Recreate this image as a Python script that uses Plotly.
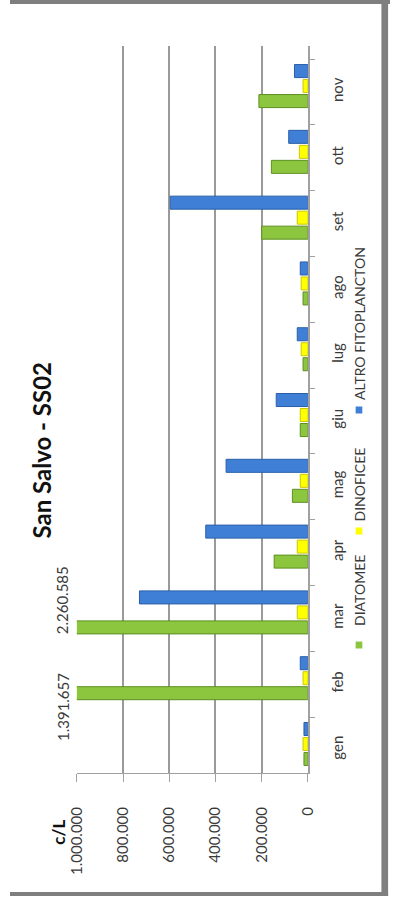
import plotly.graph_objects as go

# Monthly phytoplankton abundance (cells per litre), station SS02
months = ["gen", "feb", "mar", "apr", "mag", "giu", "lug", "ago", "set", "ott", "nov"]
diatomee = [17000, 1391657, 2260585, 146000, 67000, 33000, 21000, 21000, 200000, 158000, 212000]
dinoficee = [21000, 21000, 46000, 46000, 33000, 33000, 29000, 29000, 46000, 37000, 21000]
altro = [17000, 33000, 729000, 442000, 354000, 137000, 46000, 33000, 596000, 83000, 58000]

series_names = ["DIATOMEE", "DINOFICEE", "ALTRO FITOPLANCTON"]
value_ticks = [0, 200000, 400000, 600000, 800000, 1000000]
value_tick_text = ["0", "200.000", "400.000", "600.000", "800.000", "1.000.000"]
axis_max = 1000000

W, H = 398, 899
FONT = "Lato, 'Open Sans', sans-serif"
TXT = "#3a3a3a"
GRID = "#9a9a9a"

green, yellow, blue = "#8cc63f", "#ffff00", "#3f80d6"
edge_green, edge_yellow, edge_blue = "#5e8f22", "#c9c900", "#2a5ea8"


def px(x):
    return x / W


def py(y):
    return 1 - y / H


def fmt(v):
    return f"{v:,}".replace(",", ".")


fig = go.Figure()
bar_w = 0.198
offsets = [-0.236, -0.008, 0.220]
for name, vals, col, edge, off in zip(
    series_names,
    [diatomee, dinoficee, altro],
    [green, yellow, blue],
    [edge_green, edge_yellow, edge_blue],
    offsets,
):
    fig.add_trace(
        go.Bar(
            name=name,
            y=months,
            x=vals,
            orientation="h",
            width=bar_w,
            offset=off,
            marker=dict(color=col, line=dict(color=edge, width=1)),
            showlegend=False,
        )
    )

# values beyond the axis limit are written next to the clipped bars
label_shift = {"feb": -23, "mar": 18}
annotations = []
for m, v in zip(months, diatomee):
    if v > axis_max:
        annotations.append(
            dict(
                xref="x", yref="y", x=axis_max, y=m,
                xanchor="center", yanchor="middle",
                text=fmt(v), textangle=-90, showarrow=False,
                xshift=-14, yshift=label_shift.get(m, 0),
                font=dict(family=FONT, size=15, color=TXT),
            )
        )

# title and unit
annotations.append(dict(
    xref="paper", yref="paper", x=px(32), y=py(450),
    xanchor="center", yanchor="middle",
    text="<b>San Salvo - SS02</b>", textangle=-90, showarrow=False,
    font=dict(family=FONT, size=24, color="#111111"),
))
annotations.append(dict(
    xref="paper", yref="paper", x=px(50), y=py(832),
    xanchor="center", yanchor="middle",
    text="<b>c/L</b>", textangle=-90, showarrow=False,
    font=dict(family=FONT, size=17, color="#111111"),
))

# vertical legend
shapes = []
legend_items = [
    (series_names[0], green, 645, 628),
    (series_names[1], yellow, 531, 523),
    (series_names[2], blue, 410, 402),
]
for name, col, sq_y, txt_y in legend_items:
    shapes.append(dict(
        type="rect", xref="paper", yref="paper",
        x0=px(362), x1=px(369), y0=py(sq_y + 3.5), y1=py(sq_y - 3.5),
        fillcolor=col, line=dict(width=0),
    ))
    annotations.append(dict(
        xref="paper", yref="paper", x=px(366), y=py(txt_y),
        xanchor="center", yanchor="bottom",
        text=name, textangle=-90, showarrow=False,
        font=dict(family=FONT, size=14, color=TXT),
    ))

# outer frame
frame = "#7f7f7f"
shapes += [
    dict(type="rect", xref="paper", yref="paper", x0=0, x1=1, y0=py(4), y1=1,
         fillcolor=frame, line=dict(width=0)),
    dict(type="rect", xref="paper", yref="paper", x0=px(389), x1=px(396), y0=py(896), y1=1,
         fillcolor=frame, line=dict(width=0)),
    dict(type="rect", xref="paper", yref="paper", x0=0, x1=px(396), y0=py(896), y1=py(892),
         fillcolor=frame, line=dict(width=0)),
]

fig.update_layout(
    width=W, height=H,
    margin=dict(l=0, r=0, t=0, b=0),
    paper_bgcolor="white", plot_bgcolor="white",
    barmode="overlay",
    annotations=annotations,
    shapes=shapes,
    xaxis=dict(
        domain=[px(70), px(312)],
        range=[axis_max, 0],
        tickvals=value_ticks, ticktext=value_tick_text,
        tickangle=-90,
        tickfont=dict(family=FONT, size=15, color=TXT),
        showgrid=True, gridcolor=GRID, gridwidth=1.5,
        zeroline=False,
        showline=True, linecolor="#a0a0a0", linewidth=1,
        ticks="outside", ticklen=8, tickcolor="#a0a0a0",
        ticklabelstandoff=19,
        fixedrange=True,
    ),
    yaxis=dict(
        domain=[py(773), py(46)],
        range=[-0.35, 10.7],
        categoryorder="array", categoryarray=months,
        side="right",
        tickangle=-90,
        tickfont=dict(family=FONT, size=15, color=TXT),
        showgrid=False, zeroline=False,
        showline=True, linecolor="#a0a0a0", linewidth=1.5,
        ticks="outside", ticklen=5, tickcolor="#a0a0a0",
        tickson="boundaries",
        ticklabelstandoff=15,
        fixedrange=True,
    ),
)

fig.write_html("out.html")
